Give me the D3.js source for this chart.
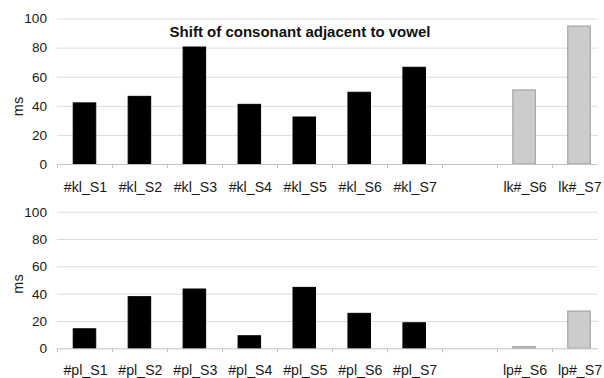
<!DOCTYPE html>
<html>
<head>
<meta charset="utf-8">
<script src="https://cdn.jsdelivr.net/npm/d3@7/dist/d3.min.js"></script>
<style>
  html, body { margin: 0; padding: 0; background: #fff; }
  svg { display: block; }
  text { font-family: "Liberation Sans", Arial, sans-serif; }
</style>
</head>
<body>
<svg id="chart" width="604" height="378"></svg>
<script>
// Category slots (the blank slot separates the two groups)
const klCategories = ["#kl_S1", "#kl_S2", "#kl_S3", "#kl_S4", "#kl_S5", "#kl_S6", "#kl_S7", "", "lk#_S6", "lk#_S7"];
const plCategories = ["#pl_S1", "#pl_S2", "#pl_S3", "#pl_S4", "#pl_S5", "#pl_S6", "#pl_S7", "", "lp#_S6", "lp#_S7"];

// Shift values in ms (null = empty slot)
const klValues = [42, 46.5, 80.4, 41, 32.3, 49.3, 66.5, null, 50.9, 94.8];
const plValues = [14.3, 37.8, 43.4, 9.2, 44.6, 25.6, 18.7, null, 1.2, 27.3];

// Series group per slot: onset clusters vs. coda clusters
const groups = ["onset", "onset", "onset", "onset", "onset", "onset", "onset", "none", "coda", "coda"];

const yTicks = [0, 20, 40, 60, 80, 100];
const titleText = "Shift of consonant adjacent to vowel";
const yLabel = "ms";

const svg = d3.select("#chart");

const fill = { onset: "#000000", coda: "#cccccc" };
const stroke = { onset: "#000000", coda: "#9a9a9a" };

function panel(cats, vals, top, bottom, labelBase, msY, title) {
  const x = d3.scaleBand().domain(d3.range(cats.length)).range([57, 606.5]).paddingInner(0).paddingOuter(0);
  const y = d3.scaleLinear().domain([0, 100]).range([bottom, top]);
  const g = svg.append("g");

  // horizontal gridlines
  g.selectAll("line.grid").data(yTicks.filter(t => t > 0)).enter().append("line")
    .attr("x1", 57).attr("x2", 598)
    .attr("y1", d => y(d) + 0.5).attr("y2", d => y(d) + 0.5)
    .attr("stroke", "#dcdcdc").attr("stroke-width", 1);

  // y tick labels
  g.selectAll("text.ytick").data(yTicks).enter().append("text")
    .attr("x", 47).attr("y", d => y(d)).attr("dy", "0.36em")
    .attr("text-anchor", "end").attr("font-size", 13.6).attr("fill", "#1a1a1a")
    .text(d => d);

  // bars
  const data = cats.map((c, i) => ({ i, v: vals[i], grp: groups[i] })).filter(d => d.v !== null);
  g.selectAll("rect.bar").data(data).enter().append("rect")
    .attr("x", d => x(d.i) + x.bandwidth() * 0.295)
    .attr("width", x.bandwidth() * 0.41)
    .attr("y", d => y(d.v))
    .attr("height", d => y(0) - y(d.v))
    .attr("fill", d => fill[d.grp])
    .attr("stroke", d => stroke[d.grp]).attr("stroke-width", 1);

  // category axis line and tick marks
  g.append("line").attr("x1", 57).attr("x2", 598)
    .attr("y1", y(0) + 0.5).attr("y2", y(0) + 0.5)
    .attr("stroke", "#c4c4c4").attr("stroke-width", 1);
  g.selectAll("line.xtick").data(d3.range(cats.length)).enter().append("line")
    .attr("x1", d => Math.round(x(d)) + 0.5).attr("x2", d => Math.round(x(d)) + 0.5)
    .attr("y1", y(0)).attr("y2", y(0) + 4)
    .attr("stroke", "#c4c4c4").attr("stroke-width", 1);

  // category labels
  g.selectAll("text.xlab").data(cats).enter().append("text")
    .attr("x", (d, i) => x(i) + x.bandwidth() / 2 + 1)
    .attr("y", labelBase)
    .attr("text-anchor", "middle").attr("font-size", 14.2).attr("fill", "#1a1a1a")
    .text(d => d);

  // y axis title
  g.append("text")
    .attr("transform", `translate(${18},${msY}) rotate(-90)`)
    .attr("dy", "0.36em").attr("text-anchor", "middle")
    .attr("font-size", 14.5).attr("fill", "#1a1a1a").text(yLabel);

  if (title) {
    g.append("text").attr("x", 300).attr("y", 32).attr("dy", "0.36em")
      .attr("text-anchor", "middle").attr("font-size", 15).attr("font-weight", "bold")
      .attr("fill", "#111").text(title);
  }
}

panel(klCategories, klValues, 18.5, 164, 192, 106.5, titleText);
panel(plCategories, plValues, 211.7, 348.3, 374.5, 284, null);
</script>
</body>
</html>
